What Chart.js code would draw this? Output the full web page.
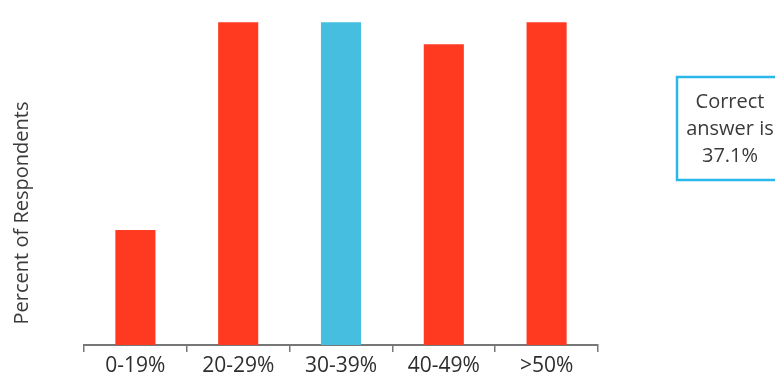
<!DOCTYPE html>
<html>
<head>
<meta charset="utf-8">
<script src="https://cdn.jsdelivr.net/npm/chart.js@4.4.1/dist/chart.umd.min.js"></script>
<style>
    html, body { margin: 0; padding: 0; background: #ffffff; }
    #wrap { width: 775px; height: 377px; position: relative; }
</style>
</head>
<body>
<div id="wrap"><canvas id="chart"></canvas></div>
<script>
// answer ranges and share of respondents (%) picking each one
var ranges = ['0-19%', '20-29%', '30-39%', '40-49%', '>50%'];
var respondents = [8.3, 23.3, 23.3, 21.7, 23.3];
var correctRange = '30-39%';
var axisTitle = 'Percent of Respondents';
var answerNote = ['Correct', 'answer is', '37.1%'];

var red = '#ff3a21';
var cyan = '#45bedf';

var barColors = ranges.map(function (r) {
    return r == correctRange ? cyan : red;
});

// side texts: rotated axis title and the boxed answer note
var sideNotes = {
    id: 'sideNotes',
    afterDraw: function (chart) {
        var ctx = chart.ctx;
        ctx.save();
        ctx.fillStyle = '#3a3a3a';
        ctx.font = '20px "Open Sans"';
        ctx.textAlign = 'center';
        ctx.textBaseline = 'middle';

        ctx.translate(22, 213);
        ctx.rotate(-Math.PI / 2);
        ctx.fillText(axisTitle, 0, 0);
        ctx.setTransform(1, 0, 0, 1, 0, 0);

        ctx.strokeStyle = '#2ab8ea';
        ctx.lineWidth = 2.5;
        ctx.strokeRect(677, 77, 110, 103);

        ctx.font = '20px "Open Sans"';
        ctx.textBaseline = 'alphabetic';
        answerNote.forEach(function (line, i) {
            ctx.fillText(line, 730, 108 + i * 27);
        });
        ctx.restore();
    }
};

new Chart(document.getElementById('chart'), {
    type: 'bar',
    data: {
        labels: ranges,
        datasets: [{
            data: respondents,
            backgroundColor: barColors,
            barPercentage: 0.39,
            categoryPercentage: 1
        }]
    },
    options: {
        responsive: true,
        maintainAspectRatio: false,
        animation: false,
        layout: {
            padding: { left: 84, right: 177, top: 0, bottom: 0 }
        },
        plugins: {
            legend: { display: false },
            tooltip: { enabled: false }
        },
        scales: {
            x: {
                offset: true,
                afterFit: function (scale) { scale.height = 32; },
                grid: {
                    offset: true,
                    drawOnChartArea: false,
                    drawTicks: true,
                    tickLength: 7,
                    color: '#777777',
                    lineWidth: 1.5
                },
                border: { color: '#777777', width: 2 },
                ticks: {
                    color: '#2e2e2e',
                    padding: 1,
                    maxRotation: 0,
                    font: { family: '"Open Sans"', size: 21 }
                }
            },
            y: {
                display: false,
                min: 0,
                max: 24.9
            }
        }
    },
    plugins: [sideNotes]
});
</script>
</body>
</html>
